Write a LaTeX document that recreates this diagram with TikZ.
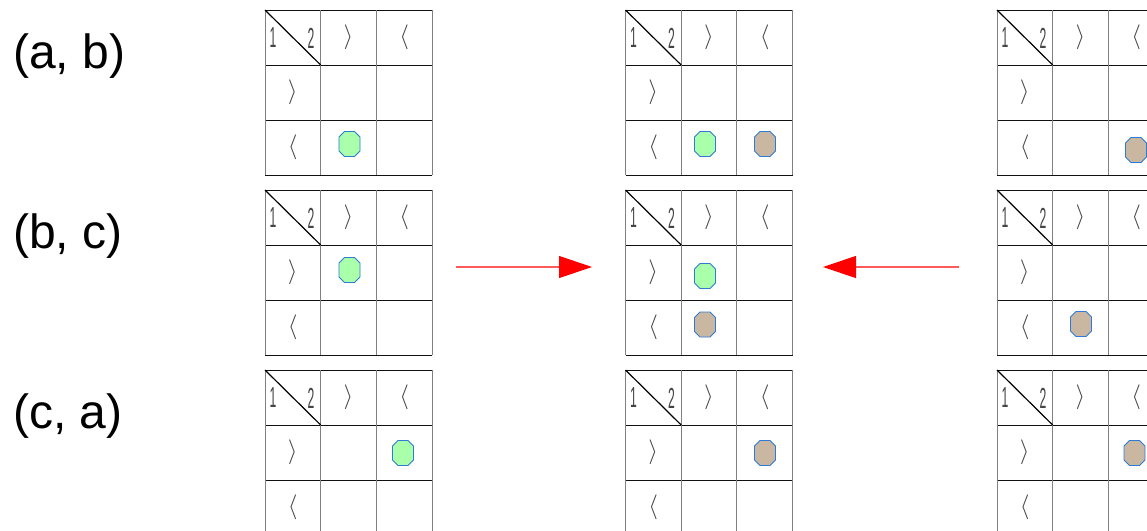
\documentclass[tikz,border=0pt]{standalone}
\usepackage{fontspec}
\setmainfont{Liberation Sans}
\usetikzlibrary{arrows.meta}
\definecolor{hline}{HTML}{111111}
\definecolor{vline}{HTML}{808080}
\definecolor{chev}{HTML}{444444}
\definecolor{octgreen}{HTML}{AAFFAA}
\definecolor{octbrown}{HTML}{C9B7A2}
\definecolor{octblue}{HTML}{2E7BD6}
\definecolor{arrline}{HTML}{FF5A5A}
\tikzset{
  hl/.style={draw=hline,line width=0.9pt},
  vl/.style={draw=vline,line width=1pt},
  diag/.style={draw=black,line width=1.2pt},
  chevtext/.style={inner sep=0pt,text=chev,font=\fontsize{28}{28}\selectfont},
  digit/.style={inner sep=0pt,text=chev,xscale=0.42,font=\fontsize{29}{29}\selectfont},
  rowlabel/.style={inner sep=0pt,anchor=base west,font=\fontsize{48}{52}\selectfont},
  redarrow/.style={draw=arrline,line width=1.2pt,-{Triangle[length=33pt,width=22pt,color=red]}},
  pics/octo/.style={code={
    \draw[draw=octblue,line width=0.9pt,fill=#1]
      (-10.5,-7) -- (-5,-12.5) -- (5,-12.5) -- (10.5,-7) -- (10.5,7) -- (5,12.5) -- (-5,12.5) -- (-10.5,7) -- cycle;
  }}
}
\newcommand\mygrid[3]{%
  \begin{scope}[shift={(#1,#2)}]
    \foreach \i in {0,1,2,3} {\draw[hl] (0,\i*55) -- (167,\i*55);}
    \foreach \i in {0,1,2,3} {\draw[vl] (\i*55.67,0) -- (\i*55.67,165);}
    \draw[diag] (0,0) -- (55.67,55);
    \node[digit] (#3d1) at (8,28) {1};
    \node[digit] (#3d2) at (46,28) {2};
    \node[chevtext] (#3c12) at (83.5,27.5) {$\rangle$};
    \node[chevtext] (#3c13) at (139.2,27.5) {$\langle$};
    \node[chevtext] (#3c21) at (27.8,82.5) {$\rangle$};
    \node[chevtext] (#3c31) at (27.8,137.5) {$\langle$};
  \end{scope}%
}
\begin{document}
\begin{tikzpicture}[x=1pt,y=-1pt]
\useasboundingbox (0,0) rectangle (1147,530);
\clip (0,0) rectangle (1147,530);
\fill[white] (0,0) rectangle (1147,530);
% row labels
\node[rowlabel] (lab1) at (13,68) {(a, b)};
\node[rowlabel] (lab2) at (13,248) {(b, c)};
\node[rowlabel] (lab3) at (13,428) {(c, a)};
% grids
\mygrid{265}{10}{ga}
\mygrid{625.5}{10}{gb}
\mygrid{997}{10}{gc}
\mygrid{265}{190}{gd}
\mygrid{625.5}{190}{ge}
\mygrid{997}{190}{gf}
\mygrid{265}{370}{gg}
\mygrid{625.5}{370}{gh}
\mygrid{997}{370}{gi}
% pieces
\pic at (349.5,144) {octo=octgreen};
\pic at (705,144) {octo=octgreen};
\pic at (765,144) {octo=octbrown};
\pic at (1136,150) {octo=octbrown};
\pic at (349.5,270) {octo=octgreen};
\pic at (705,276) {octo=octgreen};
\pic at (705,324.5) {octo=octbrown};
\pic at (1081,324) {octo=octbrown};
\pic at (403,453) {octo=octgreen};
\pic at (765,453) {octo=octbrown};
\pic at (1134.5,453) {octo=octbrown};
% arrows
\coordinate (a1s) at (456,267);
\coordinate (a1e) at (592,267);
\coordinate (a2s) at (959,267);
\coordinate (a2e) at (823,267);
\draw[redarrow] (a1s) -- (a1e);
\draw[redarrow] (a2s) -- (a2e);
\end{tikzpicture}
\end{document}
